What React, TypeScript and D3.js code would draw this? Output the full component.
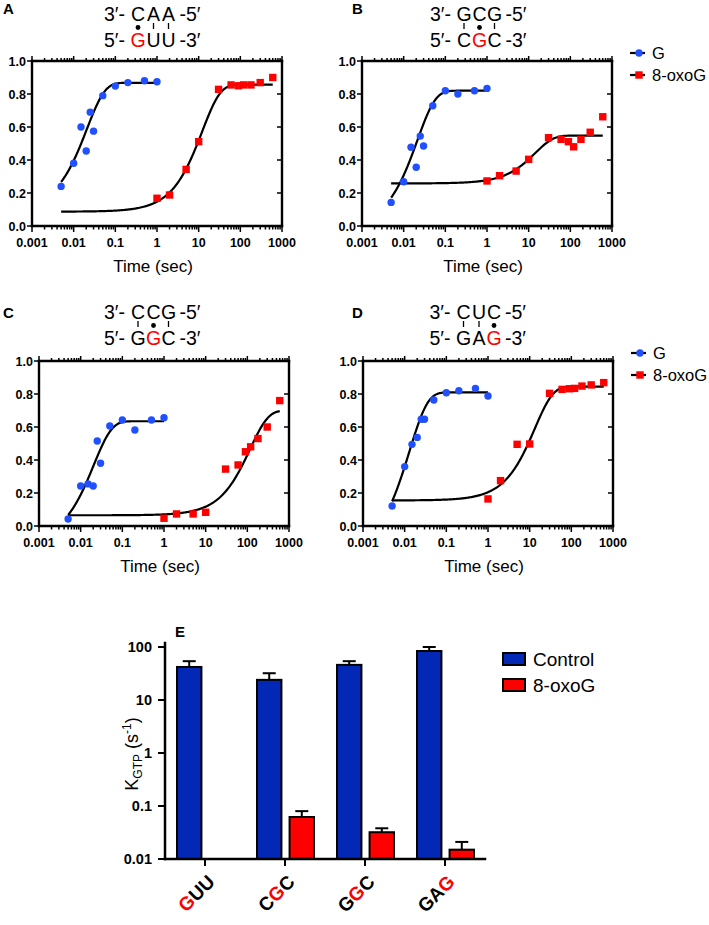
import React from "react";
import * as d3 from "d3";

const FONT = "'Liberation Sans', Arial, Helvetica, sans-serif";
const BLUE_DOT = "#2050ff";
const RED = "#ff0000";
const BAR_BLUE = "#0328b6";

// ---- Kinetic panels (A-D) ----
const timesG = [0.005, 0.01, 0.015, 0.02, 0.025, 0.03, 0.05, 0.1, 0.2, 0.5, 1];
const timesOxo = [1, 2, 5, 10, 30, 60, 90, 120, 180, 300, 600];

const aG = [0.24, 0.38, 0.6, 0.455, 0.69, 0.575, 0.79, 0.848, 0.869, 0.88, 0.874];
const aOxo = [0.168, 0.188, 0.343, 0.511, 0.828, 0.855, 0.85, 0.855, 0.855, 0.869, 0.9];
const bG = [0.143, 0.268, 0.477, 0.356, 0.545, 0.485, 0.729, 0.82, 0.8, 0.82, 0.834];
const bOxo = [0.273, 0.305, 0.333, 0.404, 0.535, 0.525, 0.511, 0.48, 0.525, 0.568, 0.662];
const cG = [0.042, 0.242, 0.255, 0.242, 0.515, 0.38, 0.606, 0.642, 0.582, 0.642, 0.656];
const cOxo = [0.047, 0.073, 0.073, 0.083, 0.345, 0.37, 0.45, 0.48, 0.53, 0.6, 0.76];
const dG = [0.121, 0.36, 0.495, 0.537, 0.647, 0.647, 0.764, 0.808, 0.82, 0.834, 0.788];
const dOxo = [0.164, 0.275, 0.495, 0.497, 0.804, 0.828, 0.832, 0.834, 0.848, 0.855, 0.869];

// fitted single-exponential parameters [start, plateau, rate]
const fitAG = [0.102, 0.868, 48.4];
const fitAOxo = [0.087, 0.857, 0.082];
const fitBG = [0.0, 0.82, 47];
const fitBOxo = [0.258, 0.548, 0.07];
const fitCG = [-0.09, 0.635, 48.7];
const fitCOxo = [0.065, 0.7, 0.00857];
const fitDG = [-0.157, 0.81, 76.4];
const fitDOxo = [0.155, 0.845, 0.075];

const xTickLabels = ["0.001", "0.01", "0.1", "1", "10", "100", "1000"];
const yTickLabels = ["0.0", "0.2", "0.4", "0.6", "0.8", "1.0"];
const legendLabels = ["G", "8-oxoG"];

// ---- Panel E ----
const categories = ["GUU", "CGC", "GGC", "GAG"];
const redIndex = [0, 1, 1, 2];
const controlK = [42, 24, 46, 84];
const controlErr = [12, 8, 8, 16];
const oxoK = [null, 0.062, 0.032, 0.015];
const oxoErr = [null, 0.018, 0.006, 0.006];
const eTicks = [0.01, 0.1, 1, 10, 100];
const eTickLabels = ["0.01", "0.1", "1", "10", "100"];
const groups = ["Control", "8-oxoG"];

type PanelProps = {
  letter: string;
  letterX: number;
  letterY: number;
  cx: number;
  base: number;
  topStrand: string;
  bottomStrand: string;
  marks: string[];
  red: number;
  x0: number;
  top: number;
  g: number[];
  oxo: number[];
  fitG: number[];
  fitOxo: number[];
  legend: boolean;
};

const fitFn = (p: number[]) => (t: number) => p[0] + (p[1] - p[0]) * (1 - Math.exp(-p[2] * t));

function Panel(props: PanelProps) {
  const { x0, top } = props;
  const bottom = top + 165;
  const x = d3.scaleLog().domain([0.001, 1000]).range([x0, x0 + 250]);
  const y = d3.scaleLinear().domain([0, 1]).range([bottom, top]);
  const minor: number[] = [];
  for (let e = -3; e < 3; e++) for (let k = 2; k <= 9; k++) minor.push(k * Math.pow(10, e));
  const major = xTickLabels.map((s) => +s);
  const yt = yTickLabels.map((s) => +s);

  const line = d3.line<number>().x((t) => x(t));
  const sample = (t0: number, t1: number) => {
    const n = 200;
    const out: number[] = [];
    const l0 = Math.log10(t0), l1 = Math.log10(t1);
    for (let i = 0; i <= n; i++) out.push(Math.pow(10, l0 + ((l1 - l0) * i) / n));
    return out;
  };
  const fG = fitFn(props.fitG);
  const fO = fitFn(props.fitOxo);
  const pathG = line.y((t) => y(fG(t)))(sample(0.005, 1));
  const pathO = line.y((t) => y(fO(t)))(sample(0.005, 600));

  const offs = [-13.5, 2, 17];
  const b1 = props.base;
  const b2 = props.base + 26;
  const tf = { fontFamily: FONT, fontSize: 19.5, fill: "#000" };

  return (
    <g>
      <text x={props.letterX} y={props.letterY} style={{ fontFamily: FONT, fontSize: 15, fontWeight: 700 }}>
        {props.letter}
      </text>
      <text x={props.cx - 26.5} y={b1} textAnchor="end" style={tf}>3′-</text>
      <text x={props.cx + 28} y={b1} textAnchor="start" style={tf}>-5′</text>
      <text x={props.cx - 26.5} y={b2} textAnchor="end" style={tf}>5′-</text>
      <text x={props.cx + 28} y={b2} textAnchor="start" style={tf}>-3′</text>
      {props.topStrand.split("").map((c, i) => (
        <text key={"t" + i} x={props.cx + offs[i]} y={b1} textAnchor="middle" style={tf}>{c}</text>
      ))}
      {props.bottomStrand.split("").map((c, i) => (
        <text key={"b" + i} x={props.cx + offs[i]} y={b2} textAnchor="middle" style={{ ...tf, fill: i === props.red ? RED : "#000" }}>{c}</text>
      ))}
      {props.marks.map((m, i) =>
        m === "dot" ? (
          <circle key={"m" + i} cx={props.cx + offs[i]} cy={b1 + 6.5} r={2.4} fill="#000" />
        ) : (
          <line key={"m" + i} x1={props.cx + offs[i]} x2={props.cx + offs[i]} y1={b1 + 2} y2={b1 + 8} stroke="#000" strokeWidth={1.3} />
        )
      )}
      <g stroke="#000" strokeWidth={2.4} fill="none" strokeLinecap="square">
        <line x1={x0} x2={x0} y1={top} y2={bottom} />
        <line x1={x0} x2={x0 + 250} y1={bottom} y2={bottom} />
        <line x1={x0} x2={x0 + 250} y1={top} y2={top} />
        <line x1={x0 + 250} x2={x0 + 250} y1={top} y2={bottom} />
      </g>
      <g stroke="#000" strokeWidth={1.5}>
        {major.map((t, i) => (
          <g key={"M" + i}>
            <line x1={x(t)} x2={x(t)} y1={bottom} y2={bottom + 6} />
            <line x1={x(t)} x2={x(t)} y1={top} y2={top - 5} />
          </g>
        ))}
        {minor.map((t, i) => (
          <g key={"m" + i}>
            <line x1={x(t)} x2={x(t)} y1={bottom} y2={bottom + 3.5} />
            <line x1={x(t)} x2={x(t)} y1={top} y2={top - 3} />
          </g>
        ))}
        {yt.map((v, i) => (
          <g key={"y" + i}>
            <line x1={x0} x2={x0 - 5} y1={y(v)} y2={y(v)} />
            <line x1={x0 + 250} x2={x0 + 245} y1={y(v)} y2={y(v)} />
          </g>
        ))}
      </g>
      {xTickLabels.map((s, i) => (
        <text key={"xl" + i} x={x(major[i])} y={bottom + 21} textAnchor="middle" style={{ fontFamily: FONT, fontSize: 12.5, fontWeight: 700 }}>
          {s}
        </text>
      ))}
      {yTickLabels.map((s, i) => (
        <text key={"yl" + i} x={x0 - 6} y={y(yt[i]) + 4.5} textAnchor="end" style={{ fontFamily: FONT, fontSize: 12.5, fontWeight: 700 }}>
          {s}
        </text>
      ))}
      <text x={x0 + 121} y={bottom + 46} textAnchor="middle" style={{ fontFamily: FONT, fontSize: 17 }}>
        Time (sec)
      </text>
      <path d={pathG || ""} fill="none" stroke="#000" strokeWidth={2.2} />
      <path d={pathO || ""} fill="none" stroke="#000" strokeWidth={2.2} />
      {props.g.map((v, i) => (
        <circle key={"pg" + i} cx={x(timesG[i])} cy={y(v)} r={3.7} fill={BLUE_DOT} />
      ))}
      {props.oxo.map((v, i) => (
        <rect key={"po" + i} x={x(timesOxo[i]) - 3.7} y={y(v) - 3.7} width={7.4} height={7.4} fill={RED} />
      ))}
      {props.legend && (
        <g>
          <line x1={x0 + 268} x2={x0 + 283} y1={top - 8} y2={top - 8} stroke="#000" strokeWidth={2.2} />
          <circle cx={x0 + 277} cy={top - 8} r={3.7} fill={BLUE_DOT} />
          <text x={x0 + 290} y={top - 2} style={{ fontFamily: FONT, fontSize: 16.5 }}>{legendLabels[0]}</text>
          <line x1={x0 + 268} x2={x0 + 283} y1={top + 14} y2={top + 14} stroke="#000" strokeWidth={2.2} />
          <rect x={x0 + 273.3} y={top + 10.3} width={7.4} height={7.4} fill={RED} />
          <text x={x0 + 290} y={top + 20} style={{ fontFamily: FONT, fontSize: 16.5 }}>{legendLabels[1]}</text>
        </g>
      )}
    </g>
  );
}

function PanelE() {
  const x = d3.scaleBand<string>().domain(categories).range([165, 485]);
  const sub = d3.scaleBand<string>().domain(groups).range([-28, 29]).paddingInner(0.25);
  const y = d3.scaleLog().domain([0.01, 100]).range([859, 647]);
  const base = y(0.01);
  const axTop = 643;
  return (
    <g>
      <text x={175} y={637} style={{ fontFamily: FONT, fontSize: 15, fontWeight: 700 }}>E</text>
      {categories.map((c, i) => {
        const cx = (x(c) as number) + x.bandwidth() / 2;
        const bx = cx + (sub("Control") as number);
        const ox = cx + (sub("8-oxoG") as number);
        const bw = sub.bandwidth();
        const ov = oxoK[i];
        const oe = oxoErr[i];
        return (
          <g key={c}>
            <line x1={bx + bw / 2} x2={bx + bw / 2} y1={y(controlK[i])} y2={y(controlK[i] + controlErr[i])} stroke="#000" strokeWidth={2} />
            <line x1={bx + bw / 2 - 6.5} x2={bx + bw / 2 + 6.5} y1={y(controlK[i] + controlErr[i])} y2={y(controlK[i] + controlErr[i])} stroke="#000" strokeWidth={2} />
            <rect x={bx} y={y(controlK[i])} width={bw} height={base - y(controlK[i])} fill={BAR_BLUE} stroke="#000" strokeWidth={2} />
            {ov !== null && oe !== null && (
              <g>
                <line x1={ox + bw / 2} x2={ox + bw / 2} y1={y(ov)} y2={y(ov + oe)} stroke="#000" strokeWidth={2} />
                <line x1={ox + bw / 2 - 6.5} x2={ox + bw / 2 + 6.5} y1={y(ov + oe)} y2={y(ov + oe)} stroke="#000" strokeWidth={2} />
                <rect x={ox} y={y(ov)} width={bw} height={base - y(ov)} fill={RED} stroke="#000" strokeWidth={2} />
              </g>
            )}
            <line x1={cx} x2={cx} y1={base} y2={base + 7} stroke="#000" strokeWidth={2} />
            <text
              transform={`translate(${cx + 11},${base + 24}) rotate(-45)`}
              textAnchor="end"
              style={{ fontFamily: FONT, fontSize: 19, fontWeight: 700 }}
            >
              {c.split("").map((ch, j) => (
                <tspan key={j} fill={j === redIndex[i] ? RED : "#000"}>{ch}</tspan>
              ))}
            </text>
          </g>
        );
      })}
      <g stroke="#000" strokeWidth={2.5} strokeLinecap="square">
        <line x1={165} x2={165} y1={axTop} y2={base} />
        <line x1={165} x2={485} y1={base} y2={base} />
      </g>
      {eTicks.map((v, i) => (
        <g key={"et" + i}>
          <line x1={158} x2={165} y1={y(v)} y2={y(v)} stroke="#000" strokeWidth={2} />
          <text x={152} y={y(v) + 5} textAnchor="end" style={{ fontFamily: FONT, fontSize: 14.5, fontWeight: 700 }}>
            {eTickLabels[i]}
          </text>
        </g>
      ))}
      <text transform="translate(138,754) rotate(-90)" textAnchor="middle" style={{ fontFamily: FONT, fontSize: 18 }}>
        K<tspan fontSize={12} dy={4}>GTP</tspan>
        <tspan dy={-4}> (s</tspan>
        <tspan fontSize={12} dy={-7}>-1</tspan>
        <tspan dy={7}>)</tspan>
      </text>
      {groups.map((gname, i) => (
        <g key={gname}>
          <rect x={503} y={653 + i * 26} width={22} height={12} fill={i === 0 ? BAR_BLUE : RED} stroke="#000" strokeWidth={2} />
          <text x={533} y={666 + i * 26} style={{ fontFamily: FONT, fontSize: 19 }}>{gname}</text>
        </g>
      ))}
    </g>
  );
}

export default function App() {
  return (
    <svg width={709} height={925} style={{ position: "absolute", left: 0, top: 0, background: "#fff" }}>
      <rect width={709} height={925} fill="#fff" />
      <Panel letter="A" letterX={3} letterY={14} cx={151.5} base={21} topStrand="CAA" bottomStrand="GUU" marks={["dot", "bar", "bar"]} red={0}
        x0={32} top={61} g={aG} oxo={aOxo} fitG={fitAG} fitOxo={fitAOxo} legend={false} />
      <Panel letter="B" letterX={352} letterY={14} cx={477.5} base={21} topStrand="GCG" bottomStrand="CGC" marks={["bar", "dot", "bar"]} red={1}
        x0={362} top={61} g={bG} oxo={bOxo} fitG={fitBG} fitOxo={fitBOxo} legend={true} />
      <Panel letter="C" letterX={3} letterY={318} cx={151.5} base={319} topStrand="CCG" bottomStrand="GGC" marks={["bar", "dot", "bar"]} red={1}
        x0={39} top={361} g={cG} oxo={cOxo} fitG={fitCG} fitOxo={fitCOxo} legend={false} />
      <Panel letter="D" letterX={352} letterY={318} cx={477} base={319} topStrand="CUC" bottomStrand="GAG" marks={["bar", "bar", "dot"]} red={2}
        x0={363} top={361} g={dG} oxo={dOxo} fitG={fitDG} fitOxo={fitDOxo} legend={true} />
      <PanelE />
    </svg>
  );
}
